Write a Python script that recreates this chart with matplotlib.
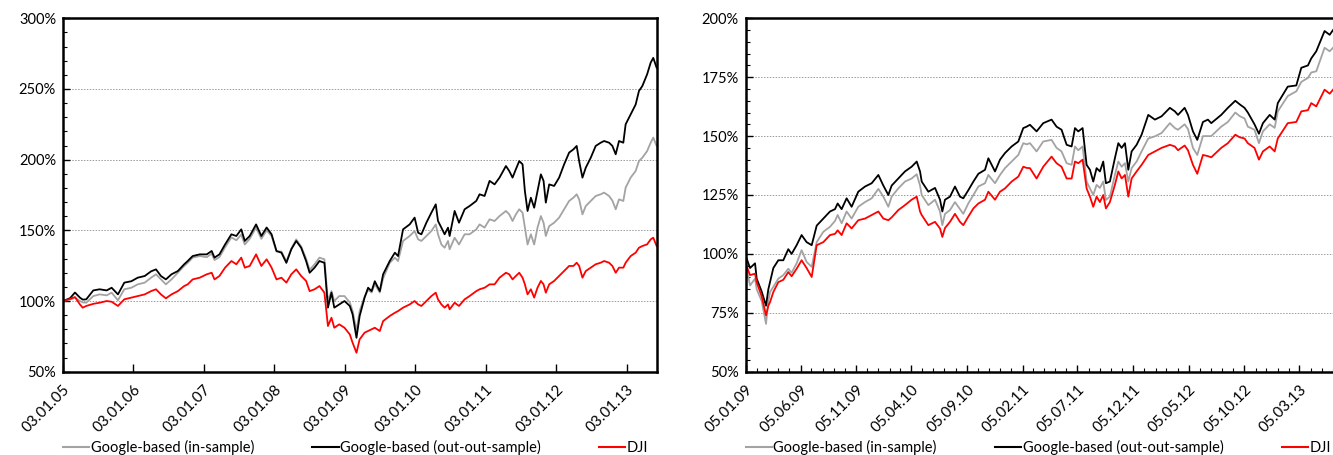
import matplotlib
matplotlib.use('Agg')
import matplotlib.pyplot as plt
from matplotlib.ticker import MultipleLocator, FuncFormatter
from matplotlib.lines import Line2D
from datetime import datetime, timedelta

plt.rcParams['font.family'] = ['Lato', 'DejaVu Sans']

# ---------------- Left panel data (decimal years, 2005.0 = 03.01.05) ----------------
t_left = [2005.00, 2005.10, 2005.17, 2005.24, 2005.28, 2005.33, 2005.43, 2005.52, 2005.62, 2005.69,
          2005.78, 2005.87, 2005.97, 2006.06, 2006.16, 2006.25, 2006.32, 2006.39, 2006.46, 2006.54,
          2006.63, 2006.72, 2006.77, 2006.84, 2006.94,
          2007.04, 2007.11, 2007.15, 2007.22, 2007.30, 2007.39, 2007.46, 2007.53, 2007.58, 2007.65,
          2007.74, 2007.815, 2007.89, 2007.96, 2008.03, 2008.10, 2008.17, 2008.24, 2008.31, 2008.38,
          2008.45, 2008.50, 2008.57, 2008.64, 2008.71, 2008.76, 2008.81, 2008.85, 2008.92, 2008.995,
          2009.07, 2009.11,
          2009.165, 2009.21, 2009.28, 2009.33, 2009.38, 2009.425, 2009.496, 2009.543, 2009.637, 2009.71,
          2009.755, 2009.826, 2009.92, 2009.99, 2010.04, 2010.086, 2010.157, 2010.228, 2010.29, 2010.322,
          2010.37, 2010.416, 2010.464, 2010.487, 2010.558, 2010.62, 2010.70, 2010.77, 2010.865, 2010.912,
          2010.983, 2011.054, 2011.125, 2011.195,
          2011.286, 2011.333, 2011.38, 2011.427, 2011.475, 2011.522, 2011.555, 2011.593, 2011.64, 2011.687,
          2011.734, 2011.782, 2011.82, 2011.852, 2011.9, 2011.97, 2012.041, 2012.112, 2012.183, 2012.244,
          2012.29, 2012.325, 2012.372, 2012.419, 2012.49, 2012.56, 2012.631, 2012.679, 2012.75, 2012.797,
          2012.844, 2012.891, 2012.952, 2012.985, 2013.056, 2013.127, 2013.174, 2013.222, 2013.29, 2013.34,
          2013.377, 2013.425]

in_sample_left = [100, 101, 102.4, 100, 99, 98.8, 103.5, 104.7, 104, 105.9,
                  100.5, 108.3, 109.4, 111.8, 113, 116.5, 118.9, 115.3, 111.8, 115.3,
                  120, 124.8, 127, 130.7, 131.8,
                  131, 133.5, 129, 131, 138, 145, 143, 147, 140, 144,
                  152, 144, 150, 146, 135, 135, 128, 137, 143.6, 138.5,
                  130, 122, 126, 130.7, 129.5, 100, 107, 100, 103.5, 103.5,
                  99, 93,
                  79, 93, 103, 108, 106, 112, 106, 116, 127, 130.7,
                  128.3, 142.5, 146, 149.5, 143.6, 142.5, 146, 149.5, 154.2, 147.2,
                  140, 137.7, 142.5, 136.6, 144.8, 140, 147.2, 147.2, 150.7, 154.2,
                  151.9, 157.8, 156.6, 160.1,
                  163.7, 161.3, 156.6, 161.3, 164.9, 162.5, 151.9, 140, 147.2, 140,
                  151.9, 160.1, 155.4, 146, 153, 155.4, 159, 164.9, 170.8, 173.1,
                  175.5, 171.9, 161.3, 167.2, 170.8, 174.3, 175.5, 176.7, 174.3, 171,
                  164.9, 171.9, 170.8, 180.2, 187.3, 192, 199, 201.4, 206.1, 212,
                  215.6, 209.7]

out_sample_left = [100, 102, 106, 102.4, 101, 101.2, 107.5, 108.3, 107.5, 109.4,
                   104.7, 113, 114, 116.5, 117.7, 121, 122.4, 117.7, 115.3, 118.9,
                   121.2, 126, 128.3, 131.8, 133,
                   133, 135.4, 130.7, 133, 140, 147.2, 146, 150.7, 142.5, 146,
                   154.2, 146, 152, 147.2, 135.4, 134.2, 127, 136.6, 142.5, 137.7,
                   128.3, 120, 123.6, 128.3, 127, 95.3, 105.9, 95.3, 97.6, 100,
                   96.5, 90.6,
                   74, 89.4, 102.4, 109.4, 107, 114, 107, 118.9, 128.3, 134.2,
                   131.8, 150.7, 154.2, 159, 148.3, 147.2, 155.4, 162.5, 168.4, 156.6,
                   151.9, 147.2, 151.9, 146, 163.7, 155.4, 164.9, 167.2, 170.8, 175.5,
                   174.3, 185, 182.5, 187.3,
                   195.5, 192, 187.3, 193.2, 199, 196.7, 177.8, 163.7, 173.1, 166,
                   177.8, 189.6, 185, 169.6, 182.5, 181.4, 187.3, 196.7, 205, 207.3,
                   209.7, 199, 187.3, 194.3, 201.4, 209.7, 212, 213.2, 212, 209.7,
                   203.8, 213.2, 212, 225, 232, 239, 248.6, 252.1, 260.4, 268.6,
                   272, 265]

dji_left = [100, 101.5, 102.8, 97.6, 95.3, 96.5, 98, 98.8, 100, 99.5,
            96.5, 101.2, 102.4, 103.5, 104.7, 107, 108.3, 104.7, 101.9, 104.7,
            107, 110.6, 111.8, 115.3, 116.5,
            118.9, 120, 115.3, 117.7, 123.6, 128.3, 126, 130.7, 123.6, 124.8,
            133, 124.8, 129.5, 123.6, 115.3, 116.5, 113, 118.9, 122.4, 117.7,
            114.2, 107, 108.3, 110.6, 105.9, 82.3, 88.2, 81.1, 83.5, 81.1,
            76.4, 70.5,
            63.4, 72.9, 77.6, 78.8, 80, 81.1, 78.8, 85.8, 89.4, 91.7,
            92.9, 95.3, 97.6, 100, 97.6, 96.5, 100, 103.5, 105.9, 101.2,
            97.6, 95.3, 97.6, 94.1, 98.8, 96.5, 101.2, 103.5, 107, 108.3,
            109.4, 111.8, 111.8, 116.5,
            120, 118.9, 115.3, 117.7, 120, 116.5, 111.8, 104.7, 108.3, 102.4,
            109.4, 114.2, 111.8, 105.9, 111.8, 114.2, 117.7, 121.2, 124.8, 124.8,
            127.1, 124.8, 116.5, 121.2, 123.6, 126, 127.1, 128.3, 127.1, 124.8,
            120, 123.6, 123.6, 127.1, 131.8, 134.2, 137.7, 138.9, 140.1, 143.6,
            144.8, 138.9]

left_ticklabels = ['03.01.05', '03.01.06', '03.01.07', '03.01.08', '03.01.09',
                   '03.01.10', '03.01.11', '03.01.12', '03.01.13']

# ---------------- Right panel data (months since 05.01.09) ----------------
m_right = [0.0, 0.41, 0.86, 1.01, 1.46, 1.85, 2.06, 2.21, 2.51, 2.96,
           3.41, 3.86, 4.16, 4.61, 5.06, 5.51, 5.97, 6.42, 7.02, 7.62,
           8.07, 8.31, 8.67, 9.12, 9.57, 10.17, 10.78, 11.38, 11.98, 12.43,
           12.88, 13.18, 13.78, 14.38, 14.98, 15.44, 15.74, 15.89, 16.49, 17.09,
           17.54, 17.75, 17.99, 18.44, 18.89, 19.34, 19.64, 20.09, 20.55, 21.0,
           21.6, 21.9, 22.5, 22.95, 23.4, 24.0, 24.6, 25.05, 25.35, 25.65,
           26.25, 26.85, 27.6, 28.05, 28.5, 28.96, 29.41, 29.71, 30.01, 30.4,
           30.76, 31.06, 31.36, 31.66, 31.96, 32.26, 32.5, 32.86, 33.31, 33.62,
           33.92, 34.22, 34.52, 34.82, 35.27, 35.72, 36.32, 36.92, 37.52, 38.27,
           38.72, 39.0, 39.6, 39.9, 40.35, 40.74, 41.25, 41.7, 42.0, 42.9,
           43.5, 44.17, 44.56, 45.0, 45.3, 45.9, 46.3, 46.66, 47.27, 47.72,
           48.0, 48.9, 49.67, 50.12, 50.72, 51.02, 51.47, 52.22, 52.68, 52.98]

out_sample_right = [99.4, 94, 96, 89.5, 84, 78, 85, 88, 94, 97.3,
                    97.3, 102, 100, 103.7, 108, 105, 103.7, 112, 115, 118,
                    119, 121.4, 119, 123.6, 120, 126.4, 128.6, 130, 133.5, 129,
                    125, 129, 132, 135, 137, 139.2, 135, 130.7, 126.4, 128,
                    123, 118, 123, 124.3, 128.6, 124.3, 123.6, 127, 130.7, 134,
                    135.7, 140.6, 135, 140, 142.8, 145.6, 147.7, 153.4, 154, 154.8,
                    152, 155.5, 157, 154, 152.7, 146.3, 145.6, 153.4, 152, 153.4,
                    137.8, 135.7, 130.7, 136.4, 135, 139.2, 130, 130.7, 140.6, 147,
                    145, 147, 135.7, 143.5, 146.3, 150.6, 159, 157, 158.4, 162,
                    160.5, 159, 162, 159, 152, 148.4, 156, 157, 155.5, 159,
                    162, 165, 163.5, 162, 160, 155, 151, 155.5, 159, 157,
                    164, 171, 171.5, 179, 180, 183, 186, 194.6, 193, 195]

in_sample_right = [95.9, 86.6, 89.5, 85, 80, 70.3, 80, 83.8, 86, 89.5,
                   91, 93.7, 92, 96, 101.6, 96.6, 94.5, 105, 109.4, 111.5,
                   114, 116.5, 113, 118, 115, 120, 122, 123.6, 127.6, 124.3,
                   120, 124.3, 127.8, 130.7, 132, 133.8, 129, 125, 120.7, 123,
                   118, 112.2, 117, 118.6, 122, 119, 117, 121.4, 125, 128.6,
                   130, 133.5, 130, 133.5, 136.4, 139.2, 142, 147, 146.5, 147,
                   143.5, 147.7, 148.4, 145, 143.5, 138.5, 137.8, 145.6, 144, 145.6,
                   130.7, 127.8, 125, 129.3, 128, 130.7, 122.9, 124.3, 133.5, 139.2,
                   137, 138.5, 130.7, 136.4, 139.2, 143.5, 149, 149.9, 151.3, 155.5,
                   153.4, 152.7, 155, 153, 145, 142, 150, 150, 150, 154,
                   156, 160, 158.5, 157.5, 154, 152.7, 147, 152, 155, 153.5,
                   160.5, 167, 169, 173, 174.7, 177, 177.5, 187.5, 186, 187.5]

dji_right = [96, 91, 91.6, 88, 82, 73.9, 78, 79.5, 83.8, 88,
             89, 92.3, 90.5, 93.7, 97.3, 94, 90.2, 103.7, 105, 108,
             108.5, 110, 108, 113, 110.8, 114.3, 115, 116.5, 118, 115,
             114.3, 115.5, 118.6, 120.7, 123, 124.3, 118, 116.5, 112.2, 113.6,
             110.8, 107.2, 111, 113.6, 117, 113.6, 112.2, 115.8, 119.3, 121.4,
             123, 126.4, 123, 126.4, 127.8, 130.7, 132.8, 137, 136.5, 136.4,
             132, 137, 141.3, 138.5, 137, 132, 132, 139.2, 138.5, 140,
             127.8, 124.3, 120, 124.3, 122, 125, 119.3, 122, 129.3, 135,
             132, 133.5, 124.3, 132, 135, 137.8, 142, 143.5, 145, 146.3,
             145.6, 144, 146, 144, 137.8, 134, 142, 141.5, 141, 145,
             147, 150.6, 149.5, 149, 147, 145, 140, 143.5, 145.6, 143.5,
             149, 155.5, 156, 160.5, 161, 164, 162.6, 169.7, 168, 169.7]

right_ticklabels = ['05.01.09', '05.06.09', '05.11.09', '05.04.10', '05.09.10', '05.02.11',
                    '05.07.11', '05.12.11', '05.05.12', '05.10.12', '05.03.13']

series_names = ['Google-based (in-sample)', 'Google-based (out-out-sample)', 'DJI']
series_colors = ['#a3a3a3', '#000000', '#ff0000']


def year_to_date(y):
    return datetime(2005, 1, 3) + timedelta(days=(y - 2005.0) * 365.25)


def month_to_date(m):
    return datetime(2009, 1, 5) + timedelta(days=m * 30.4375)


W, H = 1333, 455
fig = plt.figure(figsize=(W / 100, H / 100), dpi=100)

ax_top = 18.3
ax_bot = 371.7
axL = fig.add_axes([63 / W, 1 - ax_bot / H, (657 - 63) / W, (ax_bot - ax_top) / H])
axR = fig.add_axes([745.5 / W, 1 - ax_bot / H, (1336 - 745.5) / W, (ax_bot - ax_top) / H])

FS = 10.5
pct = FuncFormatter(lambda v, p: f'{v:.0f}%')


def style_axes(ax):
    for s in ax.spines.values():
        s.set_linewidth(1.8)
        s.set_color('black')
    ax.yaxis.set_major_formatter(pct)
    ax.yaxis.grid(True, which='major', linestyle=(0, (1.5, 1.5)), color='#9a9a9a', linewidth=0.7)
    ax.set_axisbelow(True)
    ax.tick_params(axis='both', which='major', direction='in', length=5, width=1, labelsize=FS,
                   top=False, right=False)
    ax.tick_params(axis='both', which='minor', direction='in', length=3, width=0.8,
                   top=False, right=False)
    ax.tick_params(axis='y', which='major', pad=5)
    ax.tick_params(axis='x', which='major', pad=8, labelsize=11)


# Left panel
xl = [year_to_date(v) for v in t_left]
for vals, c, n in zip([in_sample_left, out_sample_left, dji_left], series_colors, series_names):
    axL.plot(xl, vals, color=c, lw=1.3, label=n)
axL.set_ylim(50, 300)
axL.yaxis.set_major_locator(MultipleLocator(50))
axL.yaxis.set_minor_locator(MultipleLocator(10))
axL.set_xlim(datetime(2005, 1, 3), year_to_date(2013.43))
left_ticks = [datetime(2005 + i, 1, 3) for i in range(len(left_ticklabels))]
axL.set_xticks(left_ticks)
axL.set_xticklabels(left_ticklabels, rotation=45, ha='right', rotation_mode='anchor')
style_axes(axL)
axL.tick_params(axis='x', which='major', length=6)

# Right panel
xr = [month_to_date(v) for v in m_right]
for vals, c, n in zip([in_sample_right, out_sample_right, dji_right], series_colors, series_names):
    axR.plot(xr, vals, color=c, lw=1.3, label=n)
axR.set_ylim(50, 200)
axR.yaxis.set_major_locator(MultipleLocator(25))
axR.yaxis.set_minor_locator(MultipleLocator(5))
axR.set_xlim(datetime(2009, 1, 5), month_to_date(53.25))
right_ticks = []
minor_ticks = []
for k in range(54):
    yy = 2009 + k // 12
    mm = k % 12 + 1
    d = datetime(yy, mm, 5)
    minor_ticks.append(d)
    if k % 5 == 0 and len(right_ticks) < len(right_ticklabels):
        right_ticks.append(d)
axR.set_xticks(right_ticks)
axR.set_xticks(minor_ticks, minor=True)
axR.set_xticklabels(right_ticklabels, rotation=45, ha='right', rotation_mode='anchor')
style_axes(axR)

# Legends
for ax in (axL, axR):
    handles = [Line2D([], [], color=c, lw=1.5) for c in series_colors]
    ax.legend(handles, series_names, loc='center left', bbox_to_anchor=(0, -0.215), ncol=3,
              frameon=False, handlelength=1.8, handletextpad=0.1, columnspacing=4.0,
              borderpad=0, borderaxespad=0, fontsize=FS)

fig.savefig('out.png', dpi=100)
